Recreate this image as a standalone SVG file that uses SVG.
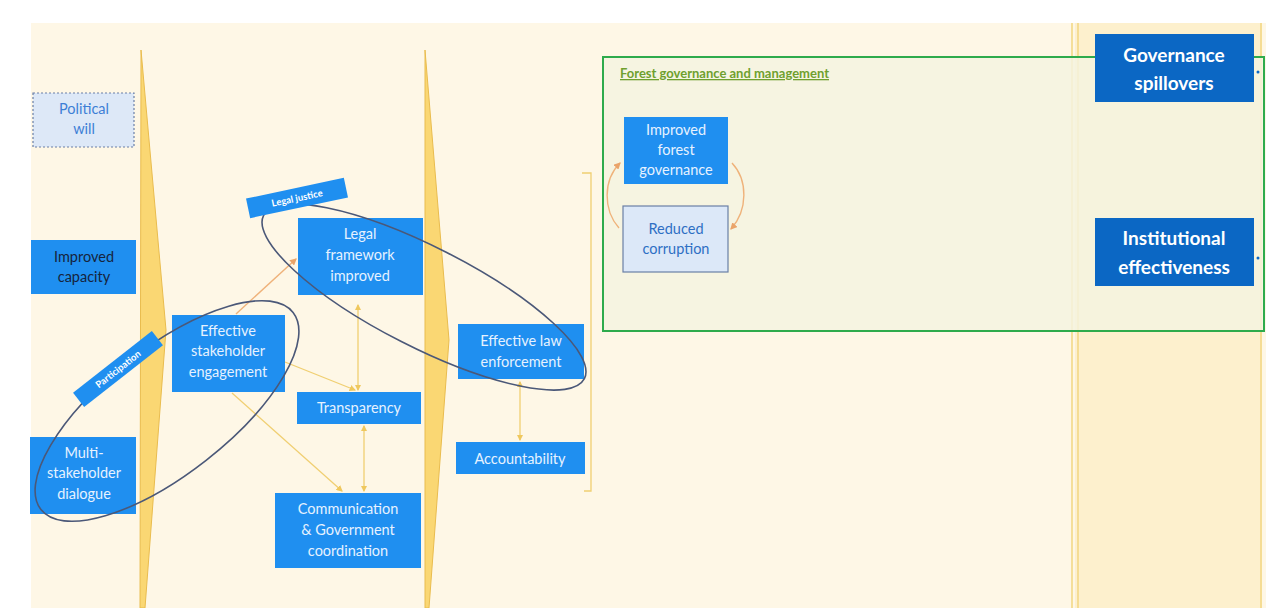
<svg xmlns="http://www.w3.org/2000/svg" width="1266" height="608" viewBox="0 0 1266 608">
<style>
.t{font-family:Lato,"Open Sans","Liberation Sans",sans-serif;text-anchor:middle}
.bx{fill:#1f8ff0}
.bt{fill:#e6f2ff;font-size:14.5px}
.lt{fill:#dce8f8;stroke:#6a7fa6;stroke-width:1.2}
.dk{fill:#0b67c4}
.dt{fill:#ffffff;font-size:19px;font-weight:bold}
.cn{fill:none;stroke:#f0cf72;stroke-width:1.3}
.co{fill:none;stroke:#efb27a;stroke-width:1.4}
.el{fill:none;stroke:#4b5878;stroke-width:1.6}
.wd{fill:#fad773;stroke:#e9bc4e;stroke-width:1}
</style>
<defs>
<marker id="ay" viewBox="0 0 6 6" refX="5" refY="3" markerWidth="5" markerHeight="5" orient="auto-start-reverse"><path d="M0,0 L6,3 L0,6 z" fill="#efc85e"/></marker>
<marker id="ao" viewBox="0 0 6 6" refX="5" refY="3" markerWidth="5" markerHeight="5" orient="auto-start-reverse"><path d="M0,0 L6,3 L0,6 z" fill="#eaa46a"/></marker>
</defs>
<rect width="1266" height="608" fill="#ffffff"/>
<rect x="31" y="23" width="1235" height="585" fill="#fef7e6"/>
<rect x="1075" y="23" width="187" height="585" fill="#fdf0cd"/>
<g id="separators" fill="none" stroke="#f3d886" stroke-width="1.6">
<line x1="1072" y1="23" x2="1072" y2="608"/>
<line x1="1078" y1="23" x2="1078" y2="608"/>
<line x1="1261" y1="23" x2="1261" y2="608"/>
</g>
<g id="wedges">
<polygon class="wd" points="141,50 166,330 145,608 140,608"/>
<polygon class="wd" points="425,50 449,340 429,608 425,608"/>
</g>
<g id="forest-group">
<rect x="603" y="57" width="661" height="274" fill="#f5f3df" fill-opacity="0.85" stroke="#2eab4c" stroke-width="2"/>
<text class="t" x="620" y="78" style="text-anchor:start;font-size:13px;font-weight:bold;fill:#6fa02e;text-decoration:underline">Forest governance and management</text>
</g>
<g id="connectors">
<line class="co" x1="236" y1="314" x2="296" y2="259" marker-end="url(#ao)"/>
<line class="cn" x1="358" y1="305" x2="358" y2="390" marker-start="url(#ay)" marker-end="url(#ay)"/>
<line class="cn" x1="285" y1="362" x2="355" y2="390" marker-end="url(#ay)"/>
<line class="cn" x1="232" y1="393" x2="342" y2="491" marker-end="url(#ay)"/>
<line class="cn" x1="364" y1="426" x2="364" y2="491" marker-start="url(#ay)" marker-end="url(#ay)"/>
<line class="cn" x1="520" y1="382" x2="520" y2="440" marker-start="url(#ay)" marker-end="url(#ay)"/>
<polyline class="cn" points="582,173 591,173 591,491 584,491"/>
<path class="co" d="M619,228 C603,210 603,180 620,163" marker-end="url(#ao)"/>
<path class="co" d="M732,163 C748,180 748,210 731,229" marker-end="url(#ao)"/>
<circle cx="1258" cy="72" r="1.5" fill="#0b67c4"/>
<circle cx="1258" cy="258" r="1.5" fill="#0b67c4"/>
</g>
<g id="political-will">
<rect x="33" y="93" width="101" height="54" fill="#dde8f7" stroke="#6a7fa6" stroke-width="1.2" stroke-dasharray="2,2"/>
<text class="t" x="84" y="114" style="fill:#3d7fd6;font-size:14.5px">Political</text>
<text class="t" x="84" y="134" style="fill:#3d7fd6;font-size:14.5px">will</text>
</g>
<g id="improved-capacity">
<rect class="bx" x="31" y="240" width="105" height="54"/>
<text class="t" x="84" y="262" style="fill:#16243c;font-size:14.5px">Improved</text>
<text class="t" x="84" y="282" style="fill:#16243c;font-size:14.5px">capacity</text>
</g>
<g id="multi-stakeholder-dialogue">
<rect class="bx" x="30" y="437" width="106" height="77"/>
<text class="t bt" x="84" y="458">Multi-</text>
<text class="t bt" x="84" y="478">stakeholder</text>
<text class="t bt" x="84" y="499">dialogue</text>
</g>
<g id="effective-stakeholder-engagement">
<rect class="bx" x="172" y="315" width="113" height="77"/>
<text class="t bt" x="228" y="336">Effective</text>
<text class="t bt" x="228" y="356">stakeholder</text>
<text class="t bt" x="228" y="377">engagement</text>
</g>
<g id="legal-framework-improved">
<rect class="bx" x="298" y="218" width="125" height="77"/>
<text class="t bt" x="360" y="239">Legal</text>
<text class="t bt" x="360" y="260">framework</text>
<text class="t bt" x="360" y="281">improved</text>
</g>
<g id="transparency">
<rect class="bx" x="297" y="392" width="124" height="32"/>
<text class="t bt" x="359" y="413">Transparency</text>
</g>
<g id="communication-government-coordination">
<rect class="bx" x="275" y="493" width="146" height="75"/>
<text class="t bt" x="348" y="514">Communication</text>
<text class="t bt" x="348" y="535">&amp; Government</text>
<text class="t bt" x="348" y="556">coordination</text>
</g>
<g id="effective-law-enforcement">
<rect class="bx" x="458" y="324" width="126" height="55"/>
<text class="t bt" x="521" y="346">Effective law</text>
<text class="t bt" x="521" y="367">enforcement</text>
</g>
<g id="accountability">
<rect class="bx" x="456" y="442" width="129" height="32"/>
<text class="t bt" x="520" y="464">Accountability</text>
</g>
<g id="improved-forest-governance">
<rect class="bx" x="624" y="117" width="104" height="67"/>
<text class="t bt" x="676" y="135">Improved</text>
<text class="t bt" x="676" y="155">forest</text>
<text class="t bt" x="676" y="175">governance</text>
</g>
<g id="reduced-corruption">
<rect class="lt" x="623" y="206" width="105" height="66"/>
<text class="t" x="676" y="234" style="fill:#2e6fc4;font-size:14.5px">Reduced</text>
<text class="t" x="676" y="254" style="fill:#2e6fc4;font-size:14.5px">corruption</text>
</g>
<g id="governance-spillovers">
<rect class="dk" x="1095" y="34" width="159" height="68"/>
<text class="t dt" x="1174" y="62">Governance</text>
<text class="t dt" x="1174" y="90">spillovers</text>
</g>
<g id="institutional-effectiveness">
<rect class="dk" x="1095" y="218" width="159" height="68"/>
<text class="t dt" x="1174" y="245">Institutional</text>
<text class="t dt" x="1174" y="274">effectiveness</text>
</g>
<g id="groupings">
<ellipse class="el" cx="167" cy="411" rx="160" ry="63" transform="rotate(-38 167 411)"/>
<ellipse class="el" cx="424" cy="297" rx="180" ry="50" transform="rotate(27 424 297)"/>
</g>
<g id="participation-label">
<g transform="translate(118,369) rotate(-38)">
<rect class="bx" x="-50" y="-9" width="100" height="18"/>
<text class="t" x="0" y="3.5" style="fill:#ffffff;font-size:9.5px;font-weight:bold">Participation</text>
</g>
</g>
<g id="legal-justice-label">
<g transform="translate(297,198) rotate(-12)">
<rect class="bx" x="-50" y="-10" width="100" height="20"/>
<text class="t" x="0" y="3.5" style="fill:#ffffff;font-size:9.5px;font-weight:bold">Legal justice</text>
</g>
</g>
</svg>
